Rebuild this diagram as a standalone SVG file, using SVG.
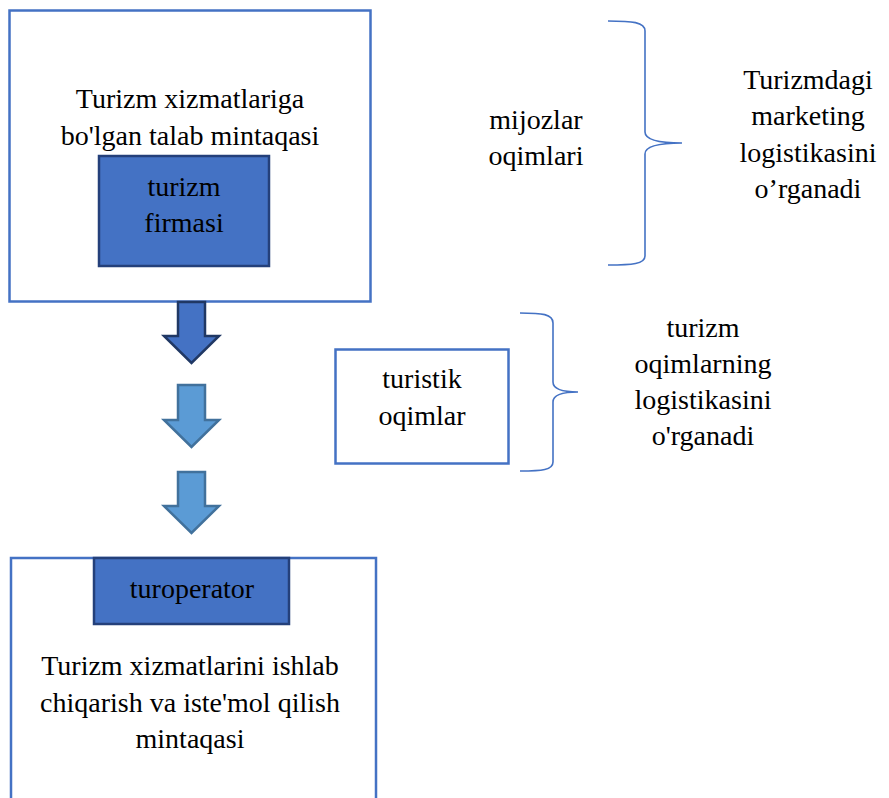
<svg xmlns="http://www.w3.org/2000/svg" width="889" height="798" viewBox="0 0 889 798">
  <style>
    .frame { fill: #ffffff; stroke: #4472C4; stroke-width: 2.5; }
    .dark { fill: #4472C4; stroke: #24407A; stroke-width: 2.5; }
    .brace { fill: none; stroke: #4472C4; stroke-width: 1.6; }
    .arrow-dark { fill: #4472C4; stroke: #203864; stroke-width: 2.5; stroke-linejoin: miter; }
    .arrow-light { fill: #5B9BD5; stroke: #41719C; stroke-width: 2.5; stroke-linejoin: miter; }
    text { font-family: "Liberation Serif", "Times New Roman", "DejaVu Serif", serif; font-size: 28px; fill: #000000; text-anchor: middle; }
  </style>
  <rect width="889" height="798" fill="#ffffff"/>

  <!-- Demand region with the tour firm inside -->
  <g id="demand-region">
    <rect class="frame" x="9.5" y="10.5" width="361" height="291"/>
    <text x="190" y="108">Turizm xizmatlariga</text>
    <text x="190" y="145">bo'lgan talab mintaqasi</text>
  </g>
  <g id="tour-firm">
    <rect class="dark" x="99" y="156" width="170" height="110"/>
    <text x="184" y="196">turizm</text>
    <text x="184" y="232">firmasi</text>
  </g>

  <!-- Down arrows between the regions -->
  <g id="connectors">
    <path class="arrow-dark" d="M178,302 L205,302 L205,336 L219,336 L191.5,363 L164,336 L178,336 Z"/>
    <path class="arrow-light" d="M178,385 L205,385 L205,420 L219,420 L191.5,447 L164,420 L178,420 Z"/>
    <path class="arrow-light" d="M178,472 L205,472 L205,506 L219,506 L191.5,533 L164,506 L178,506 Z"/>
  </g>

  <!-- Production / consumption region with the tour operator -->
  <g id="production-region">
    <rect class="frame" x="11" y="558" width="365" height="260"/>
    <text x="190" y="675">Turizm xizmatlarini ishlab</text>
    <text x="190" y="712">chiqarish va iste'mol qilish</text>
    <text x="190" y="748">mintaqasi</text>
  </g>
  <g id="tour-operator">
    <rect class="dark" x="94" y="558" width="195" height="66"/>
    <text x="192" y="598">turoperator</text>
  </g>

  <!-- Customer flows with brace and note -->
  <g id="customer-flows">
    <text x="536" y="129">mijozlar</text>
    <text x="536" y="165">oqimlari</text>
  </g>
  <g id="brace-customers">
    <path class="brace" d="M608,21 C632,21 645,22 645,31 L645,132 C645,140 658,143 682,143 C658,143 645,146 645,154 L645,256 C645,264 632,265 608,265"/>
  </g>
  <g id="note-marketing">
    <text x="808" y="89">Turizmdagi</text>
    <text x="808" y="125">marketing</text>
    <text x="808" y="162">logistikasini</text>
    <text x="808" y="198">o’rganadi</text>
  </g>

  <!-- Tourist flows with brace and note -->
  <g id="tourist-flows">
    <rect class="frame" x="335.5" y="349.5" width="173" height="114"/>
    <text x="422" y="388">turistik</text>
    <text x="422" y="425">oqimlar</text>
  </g>
  <g id="brace-tourist">
    <path class="brace" d="M520,313 C542,313 553,314 553,323 L553,382 C553,389 563,392 578,392 C563,392 553,395 553,402 L553,462 C553,470 542,471 520,471"/>
  </g>
  <g id="note-tourist">
    <text x="703" y="337">turizm</text>
    <text x="703" y="373">oqimlarning</text>
    <text x="703" y="409">logistikasini</text>
    <text x="703" y="445">o'rganadi</text>
  </g>
</svg>
